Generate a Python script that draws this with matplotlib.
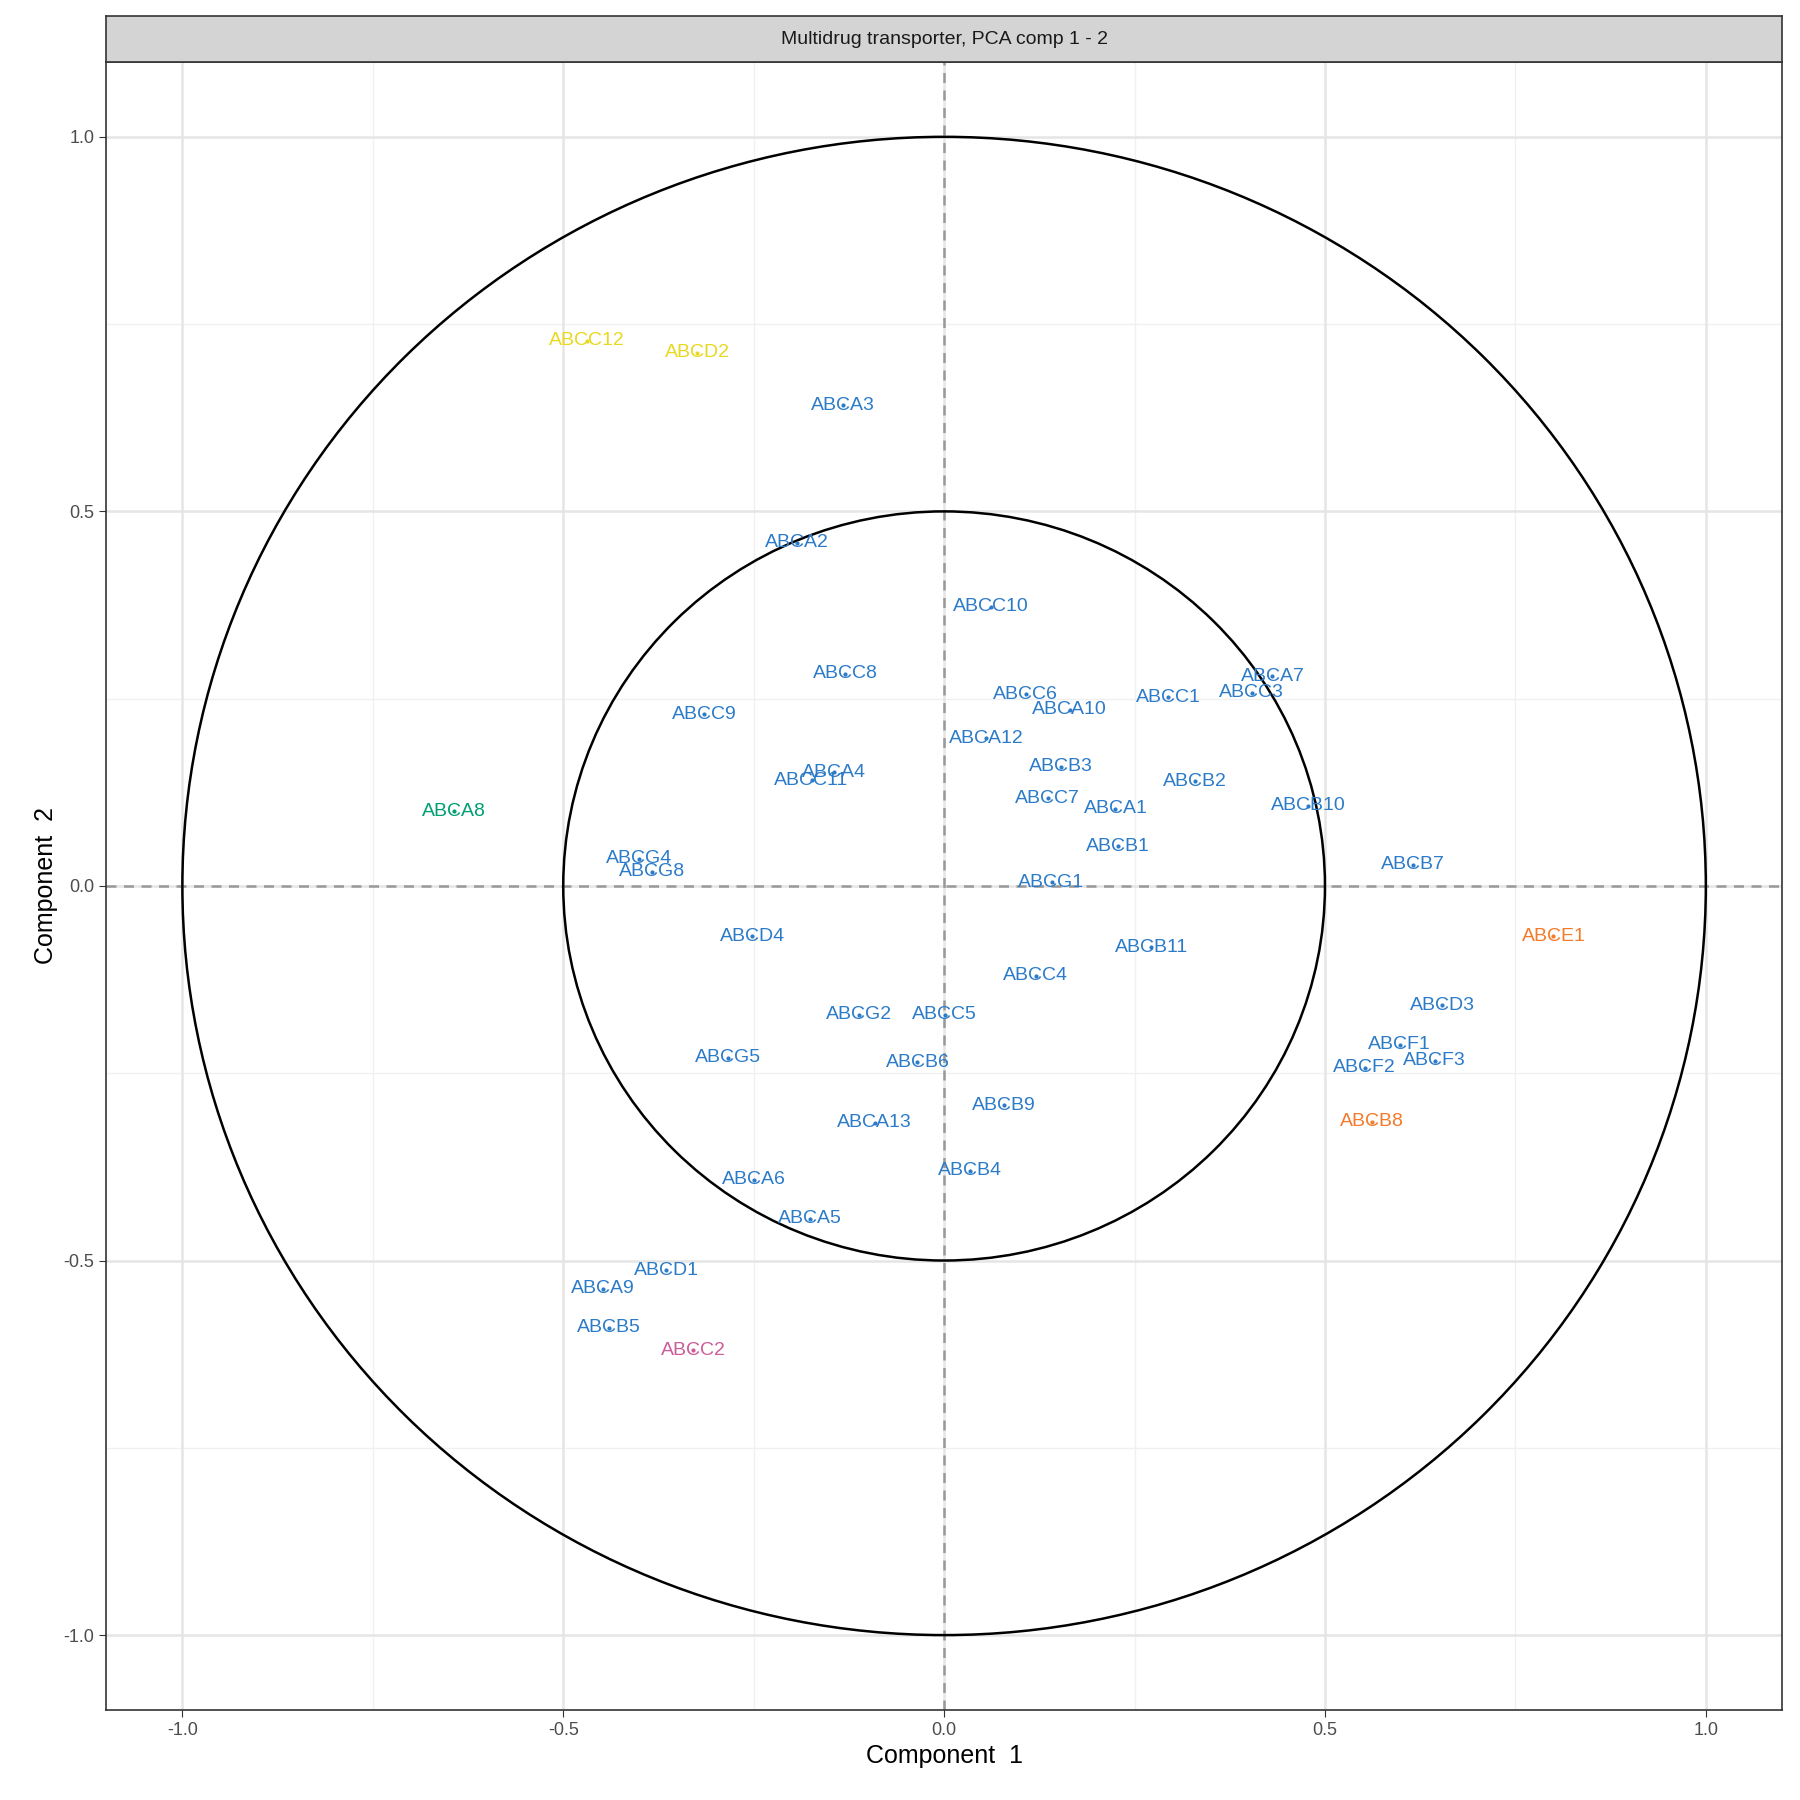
import numpy as np
import matplotlib.pyplot as plt
from matplotlib.patches import Circle, Rectangle

plt.rcParams['font.family'] = ['Liberation Sans', 'DejaVu Sans']

genes = ["ABCC12", "ABCD2", "ABCA3", "ABCA2", "ABCC10", "ABCC8", "ABCC9", "ABCC6",
         "ABCA10", "ABCC1", "ABCA7", "ABCC3", "ABCA12", "ABCB3", "ABCA4", "ABCC11",
         "ABCB2", "ABCC7", "ABCA1", "ABCB10", "ABCA8", "ABCB1", "ABCG4", "ABCG8",
         "ABCB7", "ABCG1", "ABCD4", "ABCE1", "ABCB11", "ABCC4", "ABCD3", "ABCG2",
         "ABCC5", "ABCF1", "ABCF3", "ABCG5", "ABCB6", "ABCF2", "ABCB9", "ABCB8",
         "ABCA13", "ABCA6", "ABCB4", "ABCA5", "ABCD1", "ABCA9", "ABCB5", "ABCC2"]
comp1 = [-0.469, -0.324, -0.133, -0.193, 0.062, -0.130, -0.315, 0.107,
         0.165, 0.294, 0.431, 0.404, 0.055, 0.153, -0.145, -0.174,
         0.329, 0.136, 0.225, 0.478, -0.643, 0.228, -0.401, -0.384,
         0.615, 0.141, -0.252, 0.800, 0.272, 0.120, 0.654, -0.112,
         0.001, 0.598, 0.644, -0.284, -0.035, 0.552, 0.079, 0.562,
         -0.091, -0.250, 0.034, -0.176, -0.365, -0.448, -0.440, -0.329]
comp2 = [0.728, 0.712, 0.642, 0.458, 0.373, 0.283, 0.229, 0.256,
         0.235, 0.252, 0.280, 0.258, 0.197, 0.159, 0.152, 0.141,
         0.140, 0.117, 0.103, 0.107, 0.100, 0.053, 0.036, 0.019,
         0.028, 0.005, -0.067, -0.067, -0.082, -0.120, -0.159, -0.172,
         -0.172, -0.212, -0.233, -0.229, -0.235, -0.243, -0.293, -0.315,
         -0.316, -0.392, -0.380, -0.444, -0.513, -0.538, -0.590, -0.620]
special = {"ABCC12": "#E8D81E", "ABCD2": "#E8D81E", "ABCA8": "#009E73",
           "ABCE1": "#F57A2A", "ABCB8": "#F57A2A", "ABCC2": "#CC5C99"}
default_color = "#2C7BC9"

fig = plt.figure(figsize=(18, 18), dpi=100)
ax = fig.add_axes([0.059, 0.050, 0.931, 0.9156])
ax.set_xlim(-1.1, 1.1)
ax.set_ylim(-1.1, 1.1)

major = [-1.0, -0.5, 0.0, 0.5, 1.0]
minor = [-0.75, -0.25, 0.25, 0.75]
for v in minor:
    ax.axvline(v, color="#F0F0F0", lw=1.0, zorder=0)
    ax.axhline(v, color="#F0F0F0", lw=1.0, zorder=0)
for v in major:
    ax.axvline(v, color="#E5E5E5", lw=1.8, zorder=0)
    ax.axhline(v, color="#E5E5E5", lw=1.8, zorder=0)

ax.axvline(0, color="#999999", lw=1.8, ls=(0, (4, 3)), zorder=1)
ax.axhline(0, color="#999999", lw=1.8, ls=(0, (4, 3)), zorder=1)
for r in (1.0, 0.5):
    ax.add_patch(Circle((0, 0), r, fill=False, ec="black", lw=1.8, zorder=2))

for g, x, y in zip(genes, comp1, comp2):
    c = special.get(g, default_color)
    ax.plot(x, y, "o", ms=2, color=c, zorder=3)
    ax.text(x, y, g, color=c, fontsize=14, ha="center", va="center", zorder=4)

ax.set_xticks(major)
ax.set_yticks(major)
ax.set_xticklabels(["-1.0", "-0.5", "0.0", "0.5", "1.0"])
ax.set_yticklabels(["-1.0", "-0.5", "0.0", "0.5", "1.0"])
ax.tick_params(labelsize=13, colors="#333333", length=5)
ax.tick_params(axis="both", labelcolor="#4D4D4D")
ax.set_xlabel("Component  1", fontsize=18)
ax.set_ylabel("Component  2", fontsize=18)
for s in ax.spines.values():
    s.set_color("#333333")
    s.set_linewidth(1.2)

# facet strip
sax = fig.add_axes([0.059, 0.9656, 0.931, 0.0254])
sax.add_patch(Rectangle((0, 0), 1, 1, transform=sax.transAxes, color="#D4D4D4"))
sax.set_xticks([])
sax.set_yticks([])
for s in sax.spines.values():
    s.set_color("#333333")
    s.set_linewidth(1.2)
sax.text(0.5, 0.5, "Multidrug transporter, PCA comp 1 - 2", ha="center", va="center",
         fontsize=14, color="#1A1A1A", transform=sax.transAxes)

fig.savefig("out.png", dpi=100)
